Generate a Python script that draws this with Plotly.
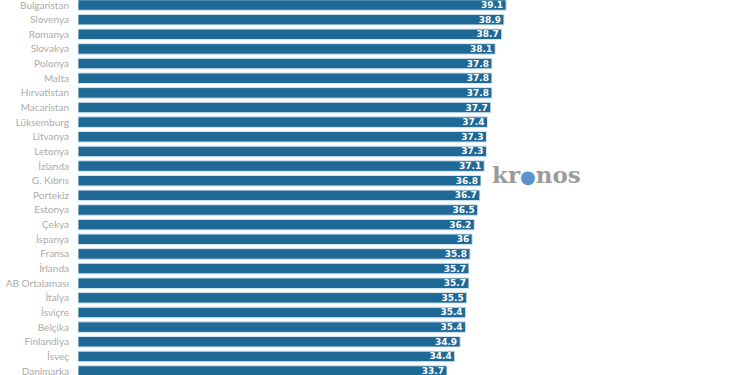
import plotly.graph_objects as go

countries = ["Bulgaristan", "Slovenya", "Romanya", "Slovakya", "Polonya", "Malta",
             "Hırvatistan", "Macaristan", "Lüksemburg", "Litvanya", "Letonya", "İzlanda",
             "G. Kıbrıs", "Portekiz", "Estonya", "Çekya", "İspanya", "Fransa", "İrlanda",
             "AB Ortalaması", "İtalya", "İsviçre", "Belçika", "Finlandiya", "İsveç", "Danimarka"]
values = [39.1, 38.9, 38.7, 38.1, 37.8, 37.8, 37.8, 37.7, 37.4, 37.3, 37.3, 37.1,
          36.8, 36.7, 36.5, 36.2, 36.0, 35.8, 35.7, 35.7, 35.5, 35.4, 35.4, 34.9, 34.4, 33.7]
labels = ["36" if v == 36.0 else f"{v:g}" for v in values]

fig = go.Figure(go.Bar(
    x=values, y=countries, orientation="h",
    marker=dict(color="#1f6996", line=dict(color="#d4e6f2", width=1)),
    width=0.72,
    text=labels, textposition="inside", insidetextanchor="end",
    textfont=dict(family="DejaVu Sans", size=9, color="white", weight="bold"),
    textangle=0, cliponaxis=True, hoverinfo="skip",
))

fig.update_layout(
    width=750, height=375,
    margin=dict(l=78, r=0, t=0, b=0, autoexpand=False),
    paper_bgcolor="white", plot_bgcolor="white",
    showlegend=False,
    xaxis=dict(range=[0, 61.37], visible=False, fixedrange=True, automargin=False),
    yaxis=dict(
        range=[25.27, -0.342], showgrid=False, zeroline=False, showline=False,
        ticks="", ticklabelstandoff=8, automargin=False, fixedrange=True,
        tickfont=dict(family="Lato", size=10, color="#ababab"),
        categoryorder="array", categoryarray=countries,
    ),
    uniformtext=dict(minsize=6, mode="show"),
)

fig.add_annotation(
    xref="paper", yref="paper", x=(536 - 78) / 672, y=1 - 174 / 375,
    text="kr<span style='color:#5b93cf;font-size:18px'>●</span>nos",
    showarrow=False, xanchor="center", yanchor="middle",
    font=dict(family="DejaVu Serif", size=23, color="#9b9b9b", weight="bold"),
)

fig.write_html("out.html", config={"displayModeBar": False},
               post_script="document.body.style.margin='0';")
